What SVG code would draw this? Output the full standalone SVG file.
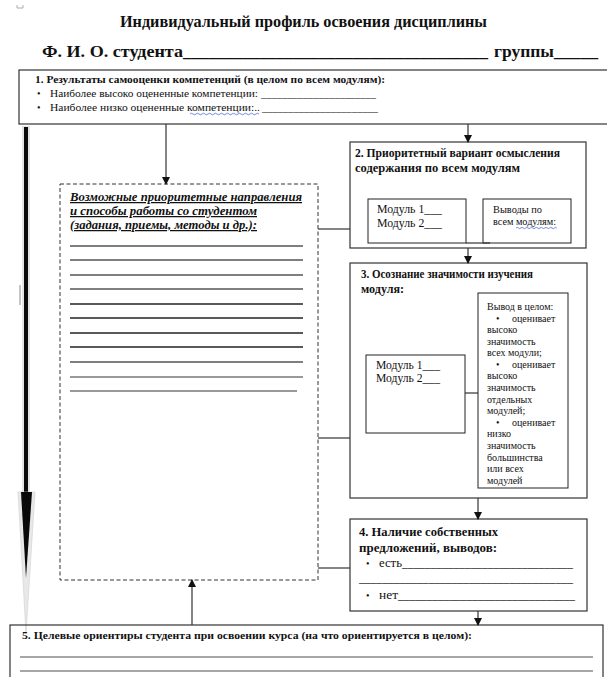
<svg xmlns="http://www.w3.org/2000/svg" width="607" height="677" viewBox="0 0 607 677" font-family="Liberation Serif, DejaVu Serif, serif">
<defs>
<style>
text{fill:#111;}
.b{font-weight:bold;}
.box{fill:none;stroke:#333;stroke-width:1.2;}
.in{fill:none;stroke:#222;stroke-width:1;}
.con{fill:none;stroke:#333;stroke-width:1.2;}
.rule{stroke:#555;stroke-width:1.3;}
.wavy{fill:none;stroke:#4a6fd6;stroke-width:0.8;}
</style>
<marker id="ah" markerWidth="8" markerHeight="8" refX="7" refY="4" orient="auto" markerUnits="userSpaceOnUse">
<path d="M0,0 L8,4 L0,8 z" fill="#111"/>
</marker>
</defs>
<rect width="607" height="677" fill="#fff"/>
<path d="M17 5 V8 H23 V5" fill="none" stroke="#999" stroke-width="0.8"/>

<g id="title">
<text class="b" x="120" y="27" font-size="17" textLength="367" lengthAdjust="spacingAndGlyphs">Индивидуальный профиль освоения дисциплины</text>
<text class="b" x="42" y="57" font-size="17" textLength="141" lengthAdjust="spacingAndGlyphs">Ф. И. О. студента</text>
<text class="b" x="183" y="57" font-size="17" textLength="305" lengthAdjust="spacingAndGlyphs">____________________________________</text>
<text class="b" x="494" y="57" font-size="17" textLength="60" lengthAdjust="spacingAndGlyphs">группы</text>
<text class="b" x="554" y="57" font-size="17" textLength="44" lengthAdjust="spacingAndGlyphs">_____</text>
</g>

<g id="box1">
<rect class="box" x="19" y="70" width="600" height="54"/>
<text class="b" x="35" y="83" font-size="10.5" textLength="350" lengthAdjust="spacingAndGlyphs">1. Результаты самооценки компетенций (в целом по всем модулям):</text>
<text x="37" y="97" font-size="10">•</text>
<text x="50" y="97" font-size="10.5" textLength="208" lengthAdjust="spacingAndGlyphs">Наиболее высоко оцененные компетенции:</text>
<text x="261" y="97" font-size="10.5" textLength="115" lengthAdjust="spacingAndGlyphs">______________________</text>
<text x="37" y="111" font-size="10">•</text>
<text x="50" y="111" font-size="10.5" textLength="210" lengthAdjust="spacingAndGlyphs">Наиболее низко оцененные компетенции:..</text>
<text x="262" y="111" font-size="10.5" textLength="116" lengthAdjust="spacingAndGlyphs">______________________</text>
<path class="wavy" d="M190 114 q1.5 -1.5 3 0 t3 0 t3 0 t3 0 t3 0 t3 0 t3 0 t3 0 t3 0 t3 0 t3 0 t3 0 t3 0 t3 0 t3 0 t3 0 t3 0 t3 0 t3 0 t3 0 t3 0 t3 0 t3 0"/>
</g>

<g id="timeline-arrow">
<rect x="22" y="126" width="8" height="368" fill="#e4e4e4"/>
<rect x="24" y="127" width="4" height="366" fill="#0a0a0a"/>
<polygon points="18,492 35,492 26,634" fill="#e8e8e8" stroke="#d0d0d0" stroke-width="0.6"/>
<polygon points="21,492 32,492 26,578" fill="#0a0a0a"/>
<line x1="20" y1="285" x2="20" y2="305" stroke="#888" stroke-width="1"/>
</g>

<g id="directions">
<rect x="60" y="184" width="258" height="396" fill="none" stroke="#333" stroke-width="1" stroke-dasharray="4,2.5"/>
<text class="b" x="70" y="201" font-size="12.5" font-style="italic" text-decoration="underline" textLength="232" lengthAdjust="spacingAndGlyphs">Возможные приоритетные направления</text>
<text class="b" x="70" y="215" font-size="12.5" font-style="italic" text-decoration="underline" textLength="187" lengthAdjust="spacingAndGlyphs">и способы работы со студентом</text>
<text class="b" x="70" y="229" font-size="12.5" font-style="italic" text-decoration="underline" textLength="187" lengthAdjust="spacingAndGlyphs">(задания, приемы, методы и др.):</text>
<g class="rule">
<line x1="70" y1="246" x2="303" y2="246"/>
<line x1="70" y1="260" x2="303" y2="260"/>
<line x1="70" y1="275" x2="303" y2="275"/>
<line x1="70" y1="289" x2="303" y2="289"/>
<line x1="70" y1="304" x2="303" y2="304" stroke="#222"/>
<line x1="70" y1="318" x2="303" y2="318" stroke="#222"/>
<line x1="70" y1="333" x2="303" y2="333" stroke="#222"/>
<line x1="70" y1="347" x2="303" y2="347" stroke="#222"/>
<line x1="70" y1="362" x2="303" y2="362"/>
<line x1="70" y1="377" x2="303" y2="377" stroke="#777"/>
<line x1="70" y1="391" x2="297" y2="391" stroke="#777"/>
</g>
</g>

<g id="box2">
<rect class="box" x="350" y="142" width="236" height="106"/>
<text class="b" x="355" y="157" font-size="11.5" textLength="205" lengthAdjust="spacingAndGlyphs">2. Приоритетный вариант осмысления</text>
<text class="b" x="355" y="172" font-size="11.5" textLength="165" lengthAdjust="spacingAndGlyphs">содержания по всем модулям</text>
<rect class="in" x="368" y="199" width="98" height="44"/>
<text x="377" y="213" font-size="11.5" textLength="65" lengthAdjust="spacingAndGlyphs">Модуль 1___</text>
<text x="377" y="227" font-size="11.5" textLength="65" lengthAdjust="spacingAndGlyphs">Модуль 2___</text>
<rect class="in" x="483" y="199" width="88" height="44"/>
<text x="493" y="213" font-size="9.5" textLength="49" lengthAdjust="spacingAndGlyphs">Выводы по</text>
<text x="493" y="225" font-size="9.5" textLength="63" lengthAdjust="spacingAndGlyphs">всем модулям:</text>
<path class="wavy" d="M516 228 q1.2 -1.2 2.4 0 t2.4 0 t2.4 0 t2.4 0 t2.4 0 t2.4 0 t2.4 0 t2.4 0 t2.4 0 t2.4 0 t2.4 0 t2.4 0 t2.4 0 t2.4 0 t2.4 0 t2.4 0 t2.4 0"/>
</g>

<g id="box3">
<rect class="box" x="350" y="263" width="237" height="235"/>
<text class="b" x="361" y="278" font-size="11.5" textLength="172" lengthAdjust="spacingAndGlyphs">3. Осознание значимости изучения</text>
<text class="b" x="361" y="293" font-size="11.5" textLength="43" lengthAdjust="spacingAndGlyphs">модуля:</text>
<rect class="in" x="366" y="355" width="99" height="78"/>
<text x="376" y="369" font-size="11.5" textLength="64" lengthAdjust="spacingAndGlyphs">Модуль 1___</text>
<text x="376" y="382" font-size="11.5" textLength="64" lengthAdjust="spacingAndGlyphs">Модуль 2___</text>
<rect class="in" x="478" y="293" width="90" height="195"/>
<g font-size="10">
<text x="487" y="310">Вывод в целом:</text>
<text x="496" y="321.5">•</text><text x="512" y="321.5">оценивает</text>
<text x="487" y="333">высоко</text>
<text x="487" y="344.6">значимость</text>
<text x="487" y="356.2">всех модули;</text>
<text x="496" y="367.8">•</text><text x="512" y="367.8">оценивает</text>
<text x="487" y="379.4">высоко</text>
<text x="487" y="391">значимость</text>
<text x="487" y="402.6">отдельных</text>
<text x="487" y="414.2">модулей;</text>
<text x="496" y="425.8">•</text><text x="512" y="425.8">оценивает</text>
<text x="487" y="437.4">низко</text>
<text x="487" y="449">значимость</text>
<text x="487" y="460.6">большинства</text>
<text x="487" y="472.2">или всех</text>
<text x="487" y="483.8">модулей</text>
</g>
</g>

<g id="box4">
<rect class="box" x="350" y="519" width="237" height="92"/>
<text class="b" x="359" y="536" font-size="12.5" textLength="139" lengthAdjust="spacingAndGlyphs">4. Наличие собственных</text>
<text class="b" x="359" y="552" font-size="12.5" textLength="138" lengthAdjust="spacingAndGlyphs">предложений, выводов:</text>
<text x="366" y="567" font-size="10">•</text>
<text x="379" y="567" font-size="11.5" textLength="23" lengthAdjust="spacingAndGlyphs">есть</text>
<text x="402" y="567" font-size="11.5" textLength="171" lengthAdjust="spacingAndGlyphs">______________________________</text>
<text x="359" y="582" font-size="11.5" textLength="214" lengthAdjust="spacingAndGlyphs">_____________________________________</text>
<text x="366" y="599" font-size="10">•</text>
<text x="379" y="599" font-size="11.5" textLength="19" lengthAdjust="spacingAndGlyphs">нет</text>
<text x="398" y="599" font-size="11.5" textLength="177" lengthAdjust="spacingAndGlyphs">_______________________________</text>
</g>

<g id="box5">
<rect class="box" x="10" y="625" width="593" height="70"/>
<text class="b" x="22" y="639" font-size="10.5" textLength="450" lengthAdjust="spacingAndGlyphs">5. Целевые ориентиры студента при освоении курса (на что ориентируется в целом):</text>
<line x1="20" y1="657" x2="593" y2="657" stroke="#888" stroke-width="1.3"/>
<line x1="20" y1="671" x2="593" y2="671" stroke="#888" stroke-width="1.3"/>
</g>

<g id="connectors">
<line class="con" x1="166" y1="124" x2="166" y2="184" marker-end="url(#ah)"/>
<line class="con" x1="468" y1="124" x2="468" y2="142" marker-end="url(#ah)"/>
<line class="con" x1="468" y1="248" x2="468" y2="263" marker-end="url(#ah)"/>
<line class="con" x1="478" y1="498" x2="478" y2="519" marker-end="url(#ah)"/>
<line class="con" x1="478" y1="611" x2="478" y2="625" marker-end="url(#ah)"/>
<line class="con" x1="192" y1="625" x2="192" y2="580" stroke="#666" marker-end="url(#ah)"/>
<line class="con" x1="318" y1="229" x2="350" y2="229"/>
<line class="con" x1="318" y1="438" x2="350" y2="438" stroke="#777"/>
<line class="con" x1="318" y1="568" x2="350" y2="568" stroke="#777"/>
<line class="con" x1="466" y1="243" x2="490" y2="243"/>
<line class="con" x1="465" y1="393" x2="478" y2="393"/>
</g>
</svg>
